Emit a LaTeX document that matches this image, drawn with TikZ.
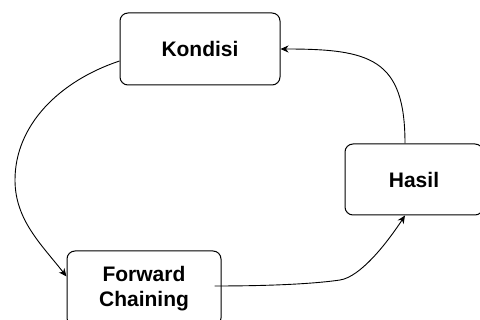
\documentclass[tikz,border=0pt]{standalone}
\usepackage{fontspec}
\setmainfont{Liberation Sans}
\usetikzlibrary{arrows.meta}
\tikzset{
  box/.style={draw=black, line width=1pt, rounded corners=8pt, fill=white, inner sep=0pt,
    align=center, font=\fontsize{21}{25}\selectfont\bfseries},
  arr/.style={draw=black, line width=0.9pt, -{Stealth[length=8pt,width=7pt,inset=2.5pt]}}
}
\begin{document}
\begin{tikzpicture}[x=1pt,y=-1pt]
\useasboundingbox (0,0) rectangle (480,320);
\node[box, minimum width=160pt, minimum height=72pt] (kon) at (200,49) {Kondisi};
\node[box, minimum width=138pt, minimum height=71pt] (has) at (414,179.5) {Hasil};
\node[box, minimum width=154pt, minimum height=75pt] (fc) at (144,288.5) {Forward\\Chaining};
\coordinate (w1) at (15,180);
\coordinate (w2) at (340,280);
\draw[arr] ([yshift=-12pt]kon.west) .. controls +(-60,20) and (15,125) .. (w1)
  .. controls (15,220) and +(-25,-32) .. ([yshift=12pt]fc.west);
\draw[arr] ([xshift=-7pt,yshift=2.5pt]fc.east) .. controls +(66,0) and (320,283) .. (w2)
  .. controls (360,277) and +(-19,29) .. ([xshift=-9pt]has.south);
\draw[arr] ([xshift=-9pt]has.north) .. controls +(0,-85) and +(90,0) .. (kon.east);
\end{tikzpicture}
\end{document}
